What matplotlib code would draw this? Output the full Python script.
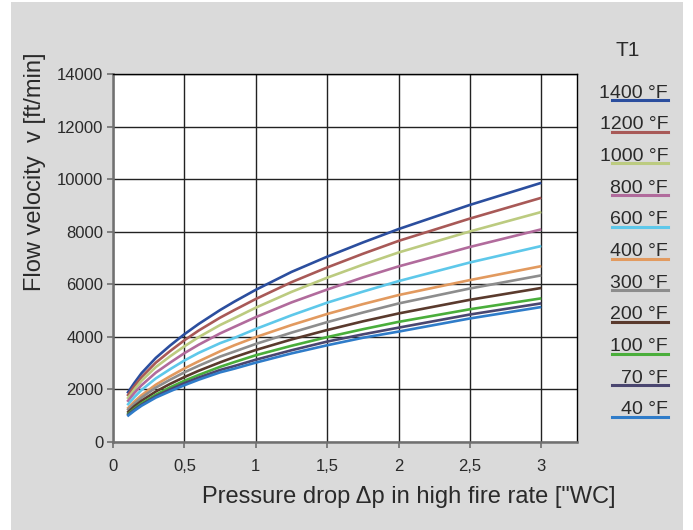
import matplotlib
matplotlib.use("Agg")
import matplotlib.pyplot as plt
from matplotlib.patches import Rectangle
from matplotlib.lines import Line2D

plt.rcParams['font.family'] = ['Liberation Sans', 'DejaVu Sans']

# pressure drop ["WC] and flow velocity [ft/min]
dp = [0.1, 0.15, 0.2, 0.3, 0.4, 0.5, 0.6, 0.75, 0.85, 1, 1.25, 1.5, 1.75, 2, 2.5, 3]

v_1400 = [1850, 2250, 2620, 3200, 3670, 4100, 4490, 5020, 5340, 5790, 6470, 7050, 7590, 8100, 9020, 9860]
v_1200 = [1750, 2130, 2470, 3020, 3460, 3870, 4240, 4730, 5020, 5440, 6080, 6640, 7160, 7650, 8500, 9290]
v_1000 = [1640, 2000, 2330, 2850, 3260, 3640, 3990, 4450, 4710, 5110, 5710, 6250, 6745, 7210, 8010, 8750]
v_800 = [1530, 1870, 2160, 2640, 3020, 3380, 3700, 4130, 4380, 4750, 5310, 5800, 6260, 6680, 7420, 8090]
v_600 = [1400, 1710, 1980, 2420, 2770, 3100, 3390, 3760, 3960, 4300, 4820, 5300, 5720, 6120, 6830, 7455]
v_400 = [1260, 1540, 1780, 2180, 2500, 2800, 3070, 3450, 3680, 3990, 4450, 4870, 5245, 5590, 6160, 6690]
v_300 = [1200, 1460, 1690, 2070, 2370, 2650, 2900, 3250, 3440, 3730, 4160, 4560, 4925, 5270, 5840, 6340]
v_200 = [1110, 1360, 1570, 1920, 2210, 2470, 2710, 3030, 3230, 3500, 3900, 4260, 4590, 4890, 5410, 5860]
v_100 = [1040, 1270, 1470, 1800, 2080, 2330, 2550, 2860, 3040, 3300, 3660, 3990, 4290, 4570, 5050, 5465]
v_70 = [1010, 1230, 1420, 1740, 2000, 2240, 2450, 2740, 2890, 3130, 3490, 3820, 4095, 4350, 4850, 5275]
v_40 = [980, 1190, 1380, 1690, 1930, 2160, 2370, 2650, 2790, 3020, 3370, 3680, 3965, 4200, 4700, 5135]

labels = ['1400 °F', '1200 °F', '1000 °F', '800 °F', '600 °F', '400 °F',
          '300 °F', '200 °F', '100 °F', '70 °F', '40 °F']
series = [v_1400, v_1200, v_1000, v_800, v_600, v_400,
          v_300, v_200, v_100, v_70, v_40]
colors = ['#2b4e9e', '#a85957', '#bccb80', '#b16b9c', '#5ec8ea', '#e29a5f',
          '#8d8d8d', '#5a3a2d', '#4aae3b', '#4a4670', '#2f7cc9']

xticks = [0, 0.5, 1, 1.5, 2, 2.5, 3]
xticklabels = ['0', '0,5', '1', '1,5', '2', '2,5', '3']
yticks = [0, 2000, 4000, 6000, 8000, 10000, 12000, 14000]

W, H = 693, 530
fig = plt.figure(figsize=(W / 100, H / 100), dpi=100, facecolor='white')

# gray panel behind everything
fig.add_artist(Rectangle((11 / W, 0), 672 / W, 528 / H, transform=fig.transFigure,
                         facecolor='#dadada', edgecolor='none', zorder=-10))

ax = fig.add_axes([113 / W, 1 - 442 / H, (577 - 113) / W, (442 - 74) / H])
ax.set_facecolor('white')

for vals, c in zip(series, colors):
    ax.plot(dp, vals, color=c, lw=1.9, solid_capstyle='butt', zorder=3)

ax.set_xlim(0, 3.25)
ax.set_ylim(0, 14000)
ax.set_xticks(xticks)
ax.set_xticklabels(xticklabels)
ax.set_yticks(yticks)
ax.grid(True, color='#222222', lw=1.0, zorder=1)
ax.set_axisbelow(True)

for s in ['left', 'bottom']:
    ax.spines[s].set_color('#707070')
    ax.spines[s].set_linewidth(1.8)
for s in ['top', 'right']:
    ax.spines[s].set_color('black')
    ax.spines[s].set_linewidth(1.0)

ax.tick_params(axis='both', direction='out', length=4, width=1.2, color='#707070',
               labelsize=12, labelcolor='#2a2a2a', pad=3)
ax.tick_params(axis='x', pad=8)

fig.text(35 / W, 1 - 172 / H, 'Flow velocity  v [ft/min]', rotation=90,
         ha='center', va='center', fontsize=17, color='#2a2a2a')
fig.text(409 / W, 1 - 497 / H, 'Pressure drop Δp in high fire rate ["WC]',
         ha='center', va='center', fontsize=17, color='#2a2a2a')

# legend: label above a colored underline
fig.text(628 / W, 1 - 50 / H, 'T1', ha='center', va='center', fontsize=15, color='#2a2a2a')
y0, step = 100, 31.7
for i, (lab, c) in enumerate(zip(labels, colors)):
    yl = y0 + i * step
    fig.add_artist(Line2D([612 / W, 668 / W], [1 - yl / H, 1 - yl / H],
                          transform=fig.transFigure, color=c, lw=2.2))
    fig.text(668 / W, 1 - (yl - 2.5) / H, lab, ha='right', va='baseline',
             fontsize=14, color='#2a2a2a')

fig.savefig('out.png', dpi=100, facecolor='white')
